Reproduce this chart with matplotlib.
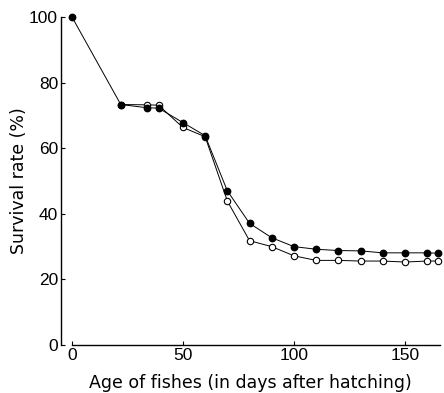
import matplotlib
matplotlib.use("Agg")
import matplotlib.pyplot as plt

days = [0, 22, 34, 39, 50, 60, 70, 80, 90, 100, 110, 120, 130, 140, 150, 160, 165]
filled = [100, 73.3, 72.3, 72.2, 67.8, 63.8, 47.0, 37.1, 32.7, 30.0, 29.2, 28.8, 28.7, 28.1, 28.1, 28.1, 28.0]
open_days = [22, 34, 39, 50, 60, 70, 80, 90, 100, 110, 120, 130, 140, 150, 160, 165]
open_vals = [73.3, 73.2, 73.1, 66.3, 63.5, 43.9, 31.8, 30.0, 27.2, 25.8, 25.8, 25.6, 25.6, 25.3, 25.6, 25.6]
xticks = [0, 50, 100, 150]
yticks = [0, 20, 40, 60, 80, 100]

fig = plt.figure(figsize=(4.44, 3.93), dpi=100)
ax = fig.add_axes([0.137, 0.122, 0.855, 0.835])

ax.plot(open_days, open_vals, color="black", lw=0.7, marker="o", ms=4.6,
        mfc="white", mec="black", mew=0.8, clip_on=False, zorder=3)
ax.plot(days, filled, color="black", lw=0.7, marker="o", ms=4.6,
        mfc="black", mec="black", clip_on=False, zorder=4)

ax.set_xlim(-5, 166)
ax.set_ylim(0, 100)
ax.spines["top"].set_visible(False)
ax.spines["right"].set_visible(False)
ax.spines["bottom"].set_bounds(0, 166)
ax.spines["left"].set_bounds(0, 100)
for s in ("left", "bottom"):
    ax.spines[s].set_linewidth(1.0)

ax.set_xticks(xticks)
ax.set_yticks(yticks)
ax.tick_params(direction="in", length=3, width=0.8, pad=2)
for lab in ax.get_xticklabels() + ax.get_yticklabels():
    lab.set_fontfamily("Liberation Sans")
    lab.set_fontsize(12.5)

ax.set_xlabel("Age of fishes (in days after hatching)", fontsize=12.5, labelpad=8)
ax.set_ylabel("Survival rate (%)", fontsize=12.5, labelpad=1)

fig.savefig("out.png", dpi=100)
